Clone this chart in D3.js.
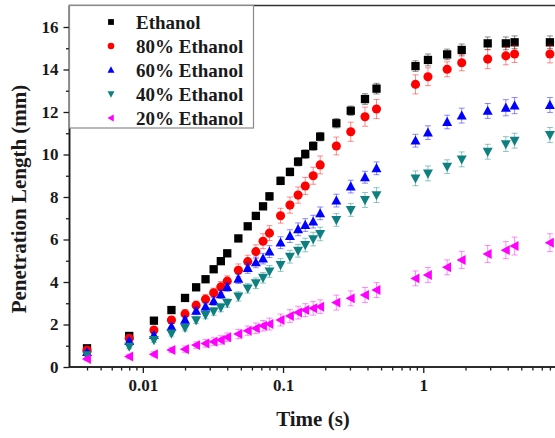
<!DOCTYPE html>
<html>
<head>
<meta charset="utf-8">
<script src="https://cdn.jsdelivr.net/npm/d3@7"></script>
<style>
html,body{margin:0;padding:0;background:#fff;}
svg{display:block;font-family:"Liberation Serif","Times New Roman",serif;font-weight:bold;}
</style>
</head>
<body>
<svg id="chart" width="555" height="438"></svg>
<script>
// ---- data ----
const times = [0.004, 0.008, 0.012, 0.016, 0.02, 0.024, 0.028, 0.032, 0.036, 0.04,
  0.048, 0.056, 0.064, 0.072, 0.08, 0.096, 0.112, 0.128, 0.144, 0.164, 0.184,
  0.24, 0.304, 0.384, 0.464, 0.88, 1.08, 1.48, 1.88, 2.88, 3.88, 4.48, 8.0];

const ethanol = [0.88, 1.46, 2.18, 2.68, 3.25, 3.75, 4.13, 4.6, 4.98, 5.35,
  6.05, 6.62, 7.11, 7.56, 8.03, 8.76, 9.18, 9.66, 10.02, 10.4, 10.84,
  11.47, 12.06, 12.61, 13.1, 14.16, 14.45, 14.71, 14.92, 15.23, 15.23, 15.28, 15.28];
const ethanol80 = [0.8, 1.35, 1.74, 2.21, 2.5, 2.9, 3.19, 3.49, 3.77, 4.04,
  4.55, 4.96, 5.43, 5.92, 6.3, 7.12, 7.62, 8.09, 8.52, 9.0, 9.51,
  10.4, 11.07, 11.78, 12.14, 13.3, 13.66, 14.01, 14.32, 14.49, 14.64, 14.73, 14.73];
const ethanol60 = [0.7, 1.22, 1.5, 1.9, 2.22, 2.64, 2.84, 3.1, 3.42, 3.76,
  4.15, 4.66, 4.92, 5.1, 5.43, 5.85, 6.16, 6.48, 6.68, 6.84, 7.23,
  7.83, 8.49, 8.93, 9.35, 10.65, 11.03, 11.53, 11.83, 12.05, 12.2, 12.3, 12.33];
const ethanol40 = [0.56, 0.96, 1.27, 1.58, 1.85, 2.2, 2.45, 2.62, 2.8, 3.01,
  3.32, 3.7, 3.94, 4.2, 4.5, 4.8, 5.19, 5.47, 5.74, 6.02, 6.26,
  6.92, 7.39, 7.86, 8.09, 8.88, 9.11, 9.43, 9.77, 10.13, 10.49, 10.65, 10.92];
const ethanol20 = [0.38, 0.49, 0.6, 0.8, 0.84, 1.03, 1.11, 1.19, 1.27, 1.4,
  1.55, 1.71, 1.82, 1.94, 2.02, 2.21, 2.4, 2.56, 2.68, 2.76, 2.84,
  3.03, 3.23, 3.39, 3.62, 4.17, 4.33, 4.69, 5.04, 5.32, 5.5, 5.69, 5.85];

const errEthanol = [0.05, 0.08, 0.08, 0.1, 0.1, 0.1, 0.1, 0.12, 0.12, 0.12,
  0.15, 0.15, 0.15, 0.15, 0.18, 0.18, 0.18, 0.2, 0.2, 0.2, 0.2,
  0.22, 0.22, 0.25, 0.25, 0.25, 0.28, 0.25, 0.28, 0.3, 0.3, 0.3, 0.3];
const err80 = [0.08, 0.1, 0.12, 0.15, 0.2, 0.2, 0.22, 0.22, 0.25, 0.25,
  0.3, 0.3, 0.32, 0.35, 0.35, 0.35, 0.38, 0.38, 0.4, 0.4, 0.42,
  0.42, 0.45, 0.45, 0.45, 0.45, 0.42, 0.35, 0.38, 0.45, 0.42, 0.4, 0.42];
const err60 = [0.08, 0.1, 0.12, 0.15, 0.15, 0.18, 0.18, 0.2, 0.2, 0.2,
  0.22, 0.25, 0.25, 0.25, 0.28, 0.28, 0.3, 0.3, 0.3, 0.3, 0.3,
  0.3, 0.3, 0.28, 0.3, 0.3, 0.32, 0.32, 0.35, 0.35, 0.38, 0.38, 0.35];
const err40 = [0.08, 0.1, 0.12, 0.12, 0.15, 0.15, 0.18, 0.18, 0.2, 0.2,
  0.22, 0.22, 0.25, 0.25, 0.28, 0.3, 0.3, 0.3, 0.32, 0.32, 0.32,
  0.3, 0.3, 0.35, 0.35, 0.35, 0.35, 0.32, 0.35, 0.35, 0.35, 0.35, 0.35];
const err20 = [0.08, 0.1, 0.12, 0.12, 0.15, 0.15, 0.18, 0.18, 0.2, 0.2,
  0.22, 0.22, 0.25, 0.25, 0.28, 0.28, 0.3, 0.3, 0.3, 0.32, 0.32,
  0.35, 0.35, 0.35, 0.35, 0.35, 0.35, 0.35, 0.4, 0.4, 0.4, 0.42, 0.42];

const seriesNames = ["Ethanol", "80% Ethanol", "60% Ethanol", "40% Ethanol", "20% Ethanol"];
const seriesValues = [ethanol, ethanol80, ethanol60, ethanol40, ethanol20];
const seriesErrors = [errEthanol, err80, err60, err40, err20];
const seriesColors = ["#000000", "#ff0000", "#0000ff", "#0f8080", "#ff00ff"];
const seriesShapes = ["square", "circle", "triangleUp", "triangleDown", "triangleLeft"];

const xTickValues = [0.01, 0.1, 1];
const xTickLabels = ["0.01", "0.1", "1"];
const yTickValues = [0, 2, 4, 6, 8, 10, 12, 14, 16];

// ---- layout ----
const svg = d3.select("#chart");
const pLeft = 69.5, pRight = 563.5, pTop = 5.5, pBottom = 367;
const x = d3.scaleLog().domain([0.003, 10]).range([pLeft, pRight]);
const y = d3.scaleLinear().domain([0, 17]).range([pBottom, pBottom - 17 * 21.25]);

// minor ticks
const xMinor = [];
[0.001, 0.01, 0.1, 1].forEach(d => { for (let k = 2; k <= 9; k++) { const v = +(d * k).toPrecision(3); if (v > 0.003 && v < 10) xMinor.push(v); } });
const yMinor = d3.range(1, 17, 2);

const axisColor = "#1a1a1a";
const fontFam = "Liberation Serif, Times New Roman, serif";

// x axis
const gx = svg.append("g").attr("transform", `translate(0,${pBottom})`);
gx.call(d3.axisBottom(x).tickValues(xMinor).tickSize(3.5).tickFormat(""));
gx.select(".domain").remove();
const gx2 = svg.append("g").attr("transform", `translate(0,${pBottom})`);
gx2.call(d3.axisBottom(x).tickValues(xTickValues).tickSize(6)
  .tickFormat((d, i) => xTickLabels[i]).tickPadding(6));
gx2.select(".domain").remove();
[gx, gx2].forEach(g => g.selectAll("line").attr("stroke", axisColor).attr("stroke-width", 1.3));
gx2.selectAll("text").attr("font-size", 17).attr("font-family", fontFam)
  .attr("font-weight", "bold").attr("fill", "#1a1a1a");

// y axis
const gy = svg.append("g").attr("transform", `translate(${pLeft},0)`);
gy.call(d3.axisLeft(y).tickValues(yMinor).tickSize(3.5).tickFormat(""));
gy.select(".domain").remove();
const gy2 = svg.append("g").attr("transform", `translate(${pLeft},0)`);
gy2.call(d3.axisLeft(y).tickValues(yTickValues).tickSize(6).tickPadding(5).tickFormat(d3.format("d")));
gy2.select(".domain").remove();
[gy, gy2].forEach(g => g.selectAll("line").attr("stroke", axisColor).attr("stroke-width", 1.3));
gy2.selectAll("text").attr("font-size", 17).attr("font-family", fontFam)
  .attr("font-weight", "bold").attr("fill", "#1a1a1a");

// frame
svg.append("rect").attr("x", pLeft).attr("y", pTop).attr("width", pRight - pLeft).attr("height", pBottom - pTop)
  .attr("fill", "none").attr("stroke", "#333").attr("stroke-width", 1.5);
svg.append("line").attr("x1", pLeft).attr("x2", pLeft).attr("y1", pTop).attr("y2", pBottom)
  .attr("stroke", axisColor).attr("stroke-width", 1.6);
svg.append("line").attr("x1", pLeft).attr("x2", pRight).attr("y1", pBottom).attr("y2", pBottom)
  .attr("stroke", axisColor).attr("stroke-width", 1.6);

// symbols
function drawShape(g, shape, cx, cy, s, color) {
  if (shape === "square") {
    g.append("rect").attr("x", cx - s / 2).attr("y", cy - s / 2).attr("width", s).attr("height", s).attr("fill", color);
  } else if (shape === "circle") {
    g.append("circle").attr("cx", cx).attr("cy", cy).attr("r", s / 2 + 0.4).attr("fill", color);
  } else {
    const h = s * 1.05, w = s * 1.2;
    let pts;
    if (shape === "triangleUp") pts = [[cx, cy - h * 0.6], [cx - w / 2, cy + h * 0.45], [cx + w / 2, cy + h * 0.45]];
    else if (shape === "triangleDown") pts = [[cx, cy + h * 0.6], [cx - w / 2, cy - h * 0.45], [cx + w / 2, cy - h * 0.45]];
    else pts = [[cx - h * 0.6, cy], [cx + h * 0.45, cy - w / 2], [cx + h * 0.45, cy + w / 2]];
    g.append("polygon").attr("points", pts.map(p => p.join(",")).join(" ")).attr("fill", color);
  }
}

const plot = svg.append("g");
seriesValues.forEach((vals, si) => {
  const g = plot.append("g");
  const color = seriesColors[si];
  const errs = seriesErrors[si];
  vals.forEach((v, i) => {
    const cx = x(times[i]);
    const y1 = y(v + errs[i]), y2 = y(v - errs[i]);
    g.append("line").attr("x1", cx).attr("x2", cx).attr("y1", y1).attr("y2", y2)
      .attr("stroke", color).attr("stroke-opacity", 0.45).attr("stroke-width", 1);
    [y1, y2].forEach(yy => g.append("line").attr("x1", cx - 3).attr("x2", cx + 3).attr("y1", yy).attr("y2", yy)
      .attr("stroke", color).attr("stroke-opacity", 0.45).attr("stroke-width", 1));
  });
  vals.forEach((v, i) => drawShape(g, seriesShapes[si], x(times[i]), y(v), 8.3, color));
});

// legend
const lg = svg.append("g");
lg.append("rect").attr("x", pLeft).attr("y", pTop).attr("width", 184).attr("height", 122.5)
  .attr("fill", "#fff").attr("stroke", "#8a8a8a").attr("stroke-width", 1.2);
seriesNames.forEach((name, i) => {
  const cy = 22 + i * 24;
  drawShape(lg, seriesShapes[i], 111, cy, 5.8, seriesColors[i]);
  lg.append("text").attr("x", 136).attr("y", cy + 6.5).attr("font-size", 19).attr("fill", "#1a1a1a").text(name);
});

// axis titles
svg.append("text").attr("x", 313).attr("y", 426).attr("text-anchor", "middle")
  .attr("font-size", 21).attr("fill", "#1a1a1a").text("Time (s)");
svg.append("text").attr("transform", "translate(26,199) rotate(-90)").attr("text-anchor", "middle")
  .attr("font-size", 21).attr("fill", "#1a1a1a").text("Penetration Length (mm)");
</script>
</body>
</html>
